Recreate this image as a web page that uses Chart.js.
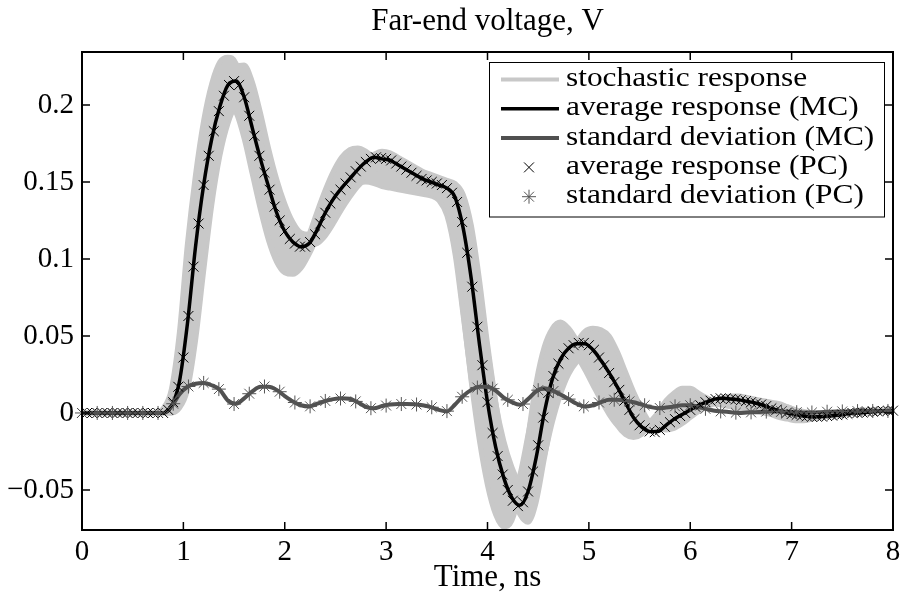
<!DOCTYPE html>
<html>
<head>
<meta charset="utf-8">
<script src="https://cdn.jsdelivr.net/npm/chart.js@4/dist/chart.umd.min.js"></script>
<style>
  html, body { margin: 0; padding: 0; background: #fff; }
  #wrap { width: 901px; height: 594px; }
</style>
</head>
<body>
<div id="wrap"><canvas id="farEnd" width="901" height="594"></canvas></div>
<script>
// Monte Carlo sample times, ns
const time = [0, 0.08, 0.16, 0.24, 0.32, 0.40, 0.48, 0.56, 0.64, 0.72, 0.80, 0.88, 0.96, 1.04, 1.12, 1.20, 1.28, 1.36, 1.44, 1.52,
  1.60, 1.68, 1.76, 1.84, 1.92, 2.00, 2.08, 2.16, 2.24, 2.32, 2.40, 2.48, 2.56, 2.64, 2.72, 2.80, 2.88, 2.96, 3.04, 3.12,
  3.20, 3.28, 3.36, 3.44, 3.52, 3.60, 3.68, 3.76, 3.84, 3.92, 4.00, 4.08, 4.16, 4.24, 4.32, 4.40, 4.48, 4.56, 4.64, 4.72,
  4.80, 4.88, 4.96, 5.04, 5.12, 5.20, 5.28, 5.36, 5.44, 5.52, 5.60, 5.68, 5.76, 5.84, 5.92, 6.00, 6.08, 6.16, 6.24, 6.32,
  6.40, 6.48, 6.56, 6.64, 6.72, 6.80, 6.88, 6.96, 7.04, 7.12, 7.20, 7.28, 7.36, 7.44, 7.52, 7.60, 7.68, 7.76, 7.84, 7.92, 8.00];

// a few of the stochastic responses (edges of the grey band), V
const stochEarlyHigh = [0, 0, 0, 0, 0, 0, 0, 0, 0, 0,
  0.003, 0.015, 0.052, 0.110, 0.155, 0.190, 0.214, 0.228, 0.231, 0.227,
  0.197, 0.162, 0.135, 0.114, 0.101, 0.095, 0.096, 0.103, 0.116, 0.131,
  0.145, 0.157, 0.166, 0.171, 0.172, 0.170, 0.166, 0.162, 0.159, 0.157,
  0.155, 0.153, 0.151, 0.150, 0.147, 0.135, 0.108, 0.065, 0.020, -0.018,
  -0.047, -0.066, -0.074, -0.070, -0.050, -0.015, 0.020, 0.043, 0.055, 0.059,
  0.055, 0.047, 0.036, 0.025, 0.013, 0.002, -0.008, -0.014, -0.016, -0.014,
  -0.008, 0.000, 0.008, 0.013, 0.016, 0.016, 0.013, 0.010, 0.008, 0.007,
  0.006, 0.005, 0.004, 0.003, 0.001, -0.001, -0.003, -0.004, -0.005, -0.005,
  -0.004, -0.003, -0.002, -0.001, 0.000, 0.001, 0.002, 0.002, 0.002, 0.002, 0.002];
const stochLateHigh = [0, 0, 0, 0, 0, 0, 0, 0, 0, 0, 0, 0,
  0.004, 0.018, 0.055, 0.105, 0.150, 0.185, 0.212, 0.225, 0.226, 0.215,
  0.195, 0.172, 0.152, 0.136, 0.124, 0.117, 0.116, 0.118, 0.124, 0.133,
  0.143, 0.152, 0.159, 0.164, 0.168, 0.170, 0.169, 0.166, 0.163, 0.160,
  0.157, 0.155, 0.153, 0.151, 0.149, 0.142, 0.122, 0.087, 0.045, 0.008,
  -0.026, -0.052, -0.066, -0.071, -0.058, -0.030, -0.002, 0.020, 0.036, 0.046,
  0.053, 0.055, 0.054, 0.050, 0.040, 0.027, 0.014, 0.003, -0.006, -0.010,
  -0.011, -0.010, -0.007, -0.003, 0.001, 0.005, 0.008, 0.010, 0.011, 0.011,
  0.010, 0.009, 0.008, 0.007, 0.006, 0.004, 0.002, 0.000, -0.001, -0.002,
  -0.002, -0.002, -0.001, 0.000, 0.001, 0.001, 0.001, 0.001, 0.001];
const stochEarlyLow = [0, 0, 0, 0, 0, 0, 0, 0, 0, 0,
  0.002, 0.012, 0.040, 0.088, 0.133, 0.165, 0.186, 0.198, 0.201, 0.195,
  0.178, 0.155, 0.132, 0.112, 0.098, 0.091, 0.090, 0.094, 0.103, 0.114,
  0.125, 0.134, 0.141, 0.146, 0.149, 0.150, 0.149, 0.147, 0.146, 0.145,
  0.144, 0.143, 0.142, 0.141, 0.138, 0.128, 0.103, 0.063, 0.022, -0.012,
  -0.037, -0.053, -0.060, -0.056, -0.040, -0.014, 0.012, 0.031, 0.042, 0.046,
  0.044, 0.037, 0.028, 0.018, 0.008, -0.001, -0.008, -0.012, -0.013, -0.011,
  -0.006, 0.000, 0.005, 0.009, 0.011, 0.011, 0.010, 0.008, 0.006, 0.005,
  0.004, 0.003, 0.002, 0.001, 0.000, -0.001, -0.002, -0.003, -0.003, -0.003,
  -0.002, -0.002, -0.001, 0.000, 0.000, 0.001, 0.001, 0.001, 0.001, 0.001, 0.001];
const stochLateLow = [0, 0, 0, 0, 0, 0, 0, 0, 0, 0, 0, 0,
  0.003, 0.015, 0.047, 0.092, 0.135, 0.167, 0.188, 0.200, 0.204, 0.198,
  0.183, 0.164, 0.145, 0.130, 0.119, 0.112, 0.109, 0.110, 0.115, 0.123,
  0.132, 0.140, 0.147, 0.152, 0.156, 0.158, 0.158, 0.156, 0.153, 0.150,
  0.147, 0.145, 0.143, 0.142, 0.140, 0.134, 0.115, 0.082, 0.042, 0.007,
  -0.018, -0.035, -0.046, -0.050, -0.045, -0.028, -0.006, 0.012, 0.025, 0.033,
  0.037, 0.038, 0.035, 0.029, 0.022, 0.014, 0.006, -0.001, -0.006, -0.009,
  -0.009, -0.008, -0.005, -0.002, 0.001, 0.004, 0.006, 0.008, 0.009, 0.009,
  0.009, 0.008, 0.007, 0.006, 0.005, 0.004, 0.002, 0.001, 0.000, -0.001,
  -0.001, -0.001, 0.000, 0.000, 0.001, 0.001, 0.001, 0.001, 0.001];

// Monte Carlo mean and standard deviation, V
const avgMC = [0, 0, 0, 0, 0, 0, 0, 0, 0, 0, 0,
  0.004, 0.020, 0.058, 0.108, 0.148, 0.178, 0.199, 0.213, 0.2155, 0.205,
  0.185, 0.165, 0.147, 0.130, 0.118, 0.111, 0.108, 0.110, 0.119, 0.130,
  0.139, 0.146, 0.152, 0.158, 0.163, 0.166, 0.165, 0.164, 0.161, 0.158,
  0.155, 0.152, 0.150, 0.148, 0.146, 0.140, 0.120, 0.087, 0.045, 0.007,
  -0.022, -0.042, -0.055, -0.060, -0.051, -0.029, 0.000, 0.022, 0.035, 0.042,
  0.045, 0.045, 0.041, 0.034, 0.026, 0.017, 0.007, -0.003, -0.009, -0.012,
  -0.012, -0.008, -0.004, -0.001, 0.002, 0.005, 0.007, 0.009, 0.0095, 0.009,
  0.0085, 0.0075, 0.0065, 0.005, 0.003, 0.0015, 0.000, -0.001, -0.002, -0.0025,
  -0.0025, -0.002, -0.0015, -0.001, 0.000, 0.000, 0.0005, 0.001, 0.0015, 0.0015];
const stdMC = [0, 0, 0, 0, 0, 0, 0, 0, 0, 0, 0,
  0.004, 0.012, 0.017, 0.019, 0.0195, 0.018, 0.015, 0.008, 0.006, 0.0095,
  0.014, 0.017, 0.017, 0.015, 0.011, 0.0075, 0.005, 0.0042, 0.006, 0.0078,
  0.009, 0.0095, 0.0092, 0.007, 0.004, 0.003, 0.0045, 0.0055, 0.0058, 0.0058,
  0.0056, 0.005, 0.0038, 0.002, 0.001, 0.0055, 0.011, 0.015, 0.017, 0.017,
  0.0145, 0.010, 0.007, 0.0053, 0.009, 0.014, 0.016, 0.0145, 0.012, 0.009,
  0.006, 0.0042, 0.005, 0.007, 0.0085, 0.0085, 0.008, 0.007, 0.0055, 0.004,
  0.0031, 0.0035, 0.0042, 0.005, 0.005, 0.004, 0.0025, 0.0015, 0.001, 0.0005,
  0.000, 0.0003, 0.0005, 0.0008, 0.001, 0.001, 0.0008, 0.0005, 0.0003, 0.0003,
  0.0005, 0.0008, 0.001, 0.001, 0.001, 0.0012, 0.0013, 0.0013, 0.0013, 0.0013];

// polynomial chaos mean, sampled every 0.05 ns
const timePC = [0, 0.05, 0.1, 0.15, 0.2, 0.25, 0.3, 0.35, 0.4, 0.45, 0.5, 0.55, 0.6, 0.65, 0.7, 0.75, 0.8, 0.85, 0.9, 0.95,
  1, 1.05, 1.1, 1.15, 1.2, 1.25, 1.3, 1.35, 1.4, 1.45, 1.5, 1.55, 1.6, 1.65, 1.7, 1.75, 1.8, 1.85, 1.9, 1.95,
  2, 2.05, 2.1, 2.15, 2.2, 2.25, 2.3, 2.35, 2.4, 2.45, 2.5, 2.55, 2.6, 2.65, 2.7, 2.75, 2.8, 2.85, 2.9, 2.95,
  3, 3.05, 3.1, 3.15, 3.2, 3.25, 3.3, 3.35, 3.4, 3.45, 3.5, 3.55, 3.6, 3.65, 3.7, 3.75, 3.8, 3.85, 3.9, 3.95,
  4, 4.05, 4.1, 4.15, 4.2, 4.25, 4.3, 4.35, 4.4, 4.45, 4.5, 4.55, 4.6, 4.65, 4.7, 4.75, 4.8, 4.85, 4.9, 4.95,
  5, 5.05, 5.1, 5.15, 5.2, 5.25, 5.3, 5.35, 5.4, 5.45, 5.5, 5.55, 5.6, 5.65, 5.7, 5.75, 5.8, 5.85, 5.9, 5.95,
  6, 6.05, 6.1, 6.15, 6.2, 6.25, 6.3, 6.35, 6.4, 6.45, 6.5, 6.55, 6.6, 6.65, 6.7, 6.75, 6.8, 6.85, 6.9, 6.95,
  7, 7.05, 7.1, 7.15, 7.2, 7.25, 7.3, 7.35, 7.4, 7.45, 7.5, 7.55, 7.6, 7.65, 7.7, 7.75, 7.8, 7.85, 7.9, 7.95, 8];
const avgPC = [0, 0, 0, 0, 0, 0, 0, 0, 0, 0,
  0, 0, 0, 0, 0, 0, 0, 0.002, 0.007, 0.017,
  0.036, 0.063, 0.095, 0.123, 0.148, 0.167, 0.183, 0.196, 0.206, 0.213,
  0.2155, 0.213, 0.205, 0.193, 0.180, 0.167, 0.156, 0.145, 0.134, 0.125,
  0.118, 0.113, 0.110, 0.108, 0.108, 0.111, 0.116, 0.123, 0.130, 0.136,
  0.141, 0.145, 0.149, 0.153, 0.157, 0.160, 0.163, 0.165, 0.166, 0.1655,
  0.165, 0.164, 0.162, 0.160, 0.158, 0.156, 0.154, 0.152, 0.151, 0.150,
  0.149, 0.148, 0.146, 0.143, 0.137, 0.124, 0.104, 0.082, 0.056, 0.031,
  0.007, -0.013, -0.028, -0.040, -0.050, -0.057, -0.0605, -0.058, -0.051, -0.038,
  -0.021, -0.003, 0.013, 0.024, 0.032, 0.038, 0.042, 0.044, 0.0455, 0.0455,
  0.044, 0.041, 0.036, 0.031, 0.026, 0.020, 0.015, 0.008, 0.002, -0.004,
  -0.008, -0.010, -0.012, -0.0125, -0.011, -0.009, -0.006, -0.004, -0.002, 0.000,
  0.002, 0.004, 0.005, 0.007, 0.008, 0.009, 0.0095, 0.0095, 0.009, 0.0088,
  0.0083, 0.0077, 0.007, 0.0063, 0.0055, 0.0045, 0.003, 0.002, 0.001, 0.000,
  -0.0007, -0.0012, -0.0018, -0.0022, -0.0025, -0.0025, -0.0024, -0.002, -0.0017, -0.0014,
  -0.001, -0.0005, 0, 0, 0.0003, 0.0005, 0.0008, 0.001, 0.0013, 0.0015, 0.0015];

// polynomial chaos standard deviation, sampled every 0.15 ns
const timeStdPC = [0, 0.15, 0.3, 0.45, 0.6, 0.75, 0.9, 1.05, 1.2, 1.35, 1.5, 1.65, 1.8, 1.95, 2.1, 2.25, 2.4, 2.55,
  2.7, 2.85, 3, 3.15, 3.3, 3.45, 3.6, 3.75, 3.9, 4.05, 4.2, 4.35, 4.5, 4.65, 4.8, 4.95, 5.1, 5.25,
  5.4, 5.55, 5.7, 5.85, 6, 6.15, 6.3, 6.45, 6.6, 6.75, 6.9, 7.05, 7.2, 7.35, 7.5, 7.65, 7.8, 7.95];
const stdPC = [0, 0, 0, 0, 0, 0, 0.006, 0.0172, 0.0195, 0.0155, 0.0058, 0.0125, 0.0172, 0.0138, 0.0068, 0.0043, 0.0078, 0.0094,
  0.0075, 0.0031, 0.0048, 0.0058, 0.0055, 0.0037, 0.0012, 0.0105, 0.0165, 0.0158, 0.0085, 0.0058, 0.0148, 0.0142, 0.009, 0.0043, 0.0068, 0.0086,
  0.0075, 0.005, 0.0032, 0.0043, 0.005, 0.0027, 0.001, 0.0002, 0.0004, 0.0009, 0.0009, 0.0005, 0.0003, 0.0008, 0.001, 0.0012, 0.0013, 0.0013];

const xTicks = [0, 1, 2, 3, 4, 5, 6, 7, 8];
const yTicks = [-0.05, 0, 0.05, 0.1, 0.15, 0.2];
const yTickLabels = ['\u22120.05', '0', '0.05', '0.1', '0.15', '0.2'];
const chartTitle = 'Far-end voltage, V';
const xTitle = 'Time, ns';

const serif = '"Liberation Serif", "Times New Roman", serif';
const bandGrey = '#c8c8c8';

function toPoints(xs, vals) {
  return vals.map(function (v, i) { return { x: xs[i], y: v }; });
}

// grey curves; fill reaches across to the opposite edge of the band
function bandLine(vals, fill, label) {
  return {
    label: label || '',
    inLegend: !!label,
    data: toPoints(time, vals),
    borderColor: bandGrey,
    backgroundColor: bandGrey,
    borderWidth: 5,
    pointRadius: 0,
    cubicInterpolationMode: 'monotone',
    fill: fill,
    order: 10
  };
}

// title over the axes, centred on the plot area
const titlePlugin = {
  id: 'axesTitle',
  afterDraw(chart) {
    const ctx = chart.ctx, area = chart.chartArea;
    ctx.save();
    ctx.fillStyle = '#000';
    ctx.font = '31px ' + serif;
    ctx.textAlign = 'center';
    ctx.textBaseline = 'middle';
    ctx.fillText(chartTitle, (area.left + area.right) / 2, 22);
    ctx.restore();
  }
};

// matlab style box with inward ticks on all four sides
const framePlugin = {
  id: 'boxFrame',
  afterDatasetsDraw(chart) {
    const ctx = chart.ctx, a = chart.chartArea;
    const xs = chart.scales.x, ys = chart.scales.y;
    const len = 8;
    ctx.save();
    ctx.strokeStyle = '#000';
    ctx.lineWidth = 1.5;
    ctx.beginPath();
    xs.ticks.forEach(function (t) {
      const px = xs.getPixelForValue(t.value);
      ctx.moveTo(px, a.bottom); ctx.lineTo(px, a.bottom - len);
      ctx.moveTo(px, a.top); ctx.lineTo(px, a.top + len);
    });
    ys.ticks.forEach(function (t) {
      const py = ys.getPixelForValue(t.value);
      ctx.moveTo(a.left, py); ctx.lineTo(a.left + len, py);
      ctx.moveTo(a.right, py); ctx.lineTo(a.right - len, py);
    });
    ctx.stroke();
    ctx.lineWidth = 2;
    ctx.strokeRect(a.left, a.top, a.right - a.left, a.bottom - a.top);
    ctx.restore();
  }
};

// legend box in the upper right corner of the axes
const legendPlugin = {
  id: 'boxLegend',
  afterDraw(chart) {
    const ctx = chart.ctx, a = chart.chartArea;
    const entries = chart.data.datasets.filter(function (ds) { return ds.inLegend; });
    const boxW = 395, rowH = 29.3;
    const right = a.right - 9, top = a.top + 10;
    const left = right - boxW;
    const boxH = rowH * entries.length + 8;
    ctx.save();
    ctx.fillStyle = '#fff';
    ctx.fillRect(left, top, boxW, boxH);
    ctx.strokeStyle = '#000';
    ctx.lineWidth = 1;
    ctx.strokeRect(left + 0.5, top + 0.5, boxW, boxH);
    entries.forEach(function (ds, i) {
      const cy = top + 17.5 + i * rowH;
      if (ds.showLine === false) {
        ctx.strokeStyle = ds.pointBorderColor;
        ctx.lineWidth = ds.pointBorderWidth;
        Chart.helpers.drawPoint(ctx, {
          pointStyle: ds.pointStyle, radius: ds.pointRadius, rotation: 0, borderWidth: ds.pointBorderWidth
        }, left + 40, cy);
      } else {
        ctx.strokeStyle = ds.borderColor;
        ctx.lineWidth = ds.borderWidth > 4 ? 4 : ds.borderWidth;
        ctx.beginPath();
        ctx.moveTo(left + 12, cy);
        ctx.lineTo(left + 70, cy);
        ctx.stroke();
      }
      ctx.save();
      ctx.translate(left + 77, cy + 6.5);
      ctx.scale(1.12, 1);
      ctx.fillStyle = '#000';
      ctx.font = '28px ' + serif;
      ctx.textBaseline = 'alphabetic';
      ctx.fillText(ds.label, 0, 0);
      ctx.restore();
    });
    ctx.restore();
  }
};

const ctx = document.getElementById('farEnd');
new Chart(ctx, {
  type: 'line',
  data: {
    datasets: [
      bandLine(stochEarlyHigh, 3, 'stochastic response'),
      bandLine(stochLateHigh, 2),
      bandLine(stochEarlyLow, false),
      bandLine(stochLateLow, false),
      {
        label: 'average response (MC)',
        inLegend: true,
        data: toPoints(time, avgMC),
        borderColor: '#000',
        borderWidth: 3.5,
        pointRadius: 0,
        cubicInterpolationMode: 'monotone',
        fill: false,
        order: 4
      },
      {
        label: 'standard deviation (MC)',
        inLegend: true,
        data: toPoints(time, stdMC),
        borderColor: '#505050',
        borderWidth: 4,
        pointRadius: 0,
        cubicInterpolationMode: 'monotone',
        fill: false,
        order: 3
      },
      {
        label: 'average response (PC)',
        inLegend: true,
        data: toPoints(timePC, avgPC),
        showLine: false,
        pointStyle: 'crossRot',
        pointRadius: 7,
        pointBorderWidth: 1,
        pointBorderColor: '#000',
        clip: false,
        order: 2
      },
      {
        label: 'standard deviation (PC)',
        inLegend: true,
        data: toPoints(timeStdPC, stdPC),
        showLine: false,
        pointStyle: 'star',
        pointRadius: 7,
        pointBorderWidth: 1,
        pointBorderColor: '#555',
        clip: false,
        order: 1
      }
    ]
  },
  options: {
    responsive: false,
    animation: false,
    devicePixelRatio: 1,
    events: [],
    layout: { padding: { top: 52, right: 7, bottom: 0, left: 0 } },
    plugins: {
      legend: { display: false },
      title: { display: false },
      tooltip: { enabled: false }
    },
    scales: {
      x: {
        type: 'linear',
        min: 0,
        max: 8,
        grid: { display: false, drawTicks: false },
        border: { display: false },
        afterBuildTicks: function (axis) { axis.ticks = xTicks.map(function (v) { return { value: v }; }); },
        afterFit: function (axis) {
          axis.height = 64;
          axis.paddingLeft = 0;
          axis.paddingRight = 0;
        },
        ticks: {
          autoSkip: false,
          maxRotation: 0,
          padding: 5,
          color: '#000',
          font: { family: serif, size: 29 },
          callback: function (v) { return String(v); }
        },
        title: {
          display: true,
          text: xTitle,
          color: '#000',
          font: { family: serif, size: 31, lineHeight: 1 },
          padding: { top: 0, bottom: 1 }
        }
      },
      y: {
        type: 'linear',
        min: -0.076,
        max: 0.2344,
        grid: { display: false, drawTicks: false },
        border: { display: false },
        afterBuildTicks: function (axis) { axis.ticks = yTicks.map(function (v) { return { value: v }; }); },
        afterFit: function (axis) {
          axis.width = 82;
          axis.paddingTop = 0;
          axis.paddingBottom = 0;
        },
        ticks: {
          padding: 8,
          color: '#000',
          font: { family: serif, size: 29 },
          callback: function (v, i) { return yTickLabels[i]; }
        }
      }
    }
  },
  plugins: [titlePlugin, framePlugin, legendPlugin]
});
</script>
</body>
</html>
